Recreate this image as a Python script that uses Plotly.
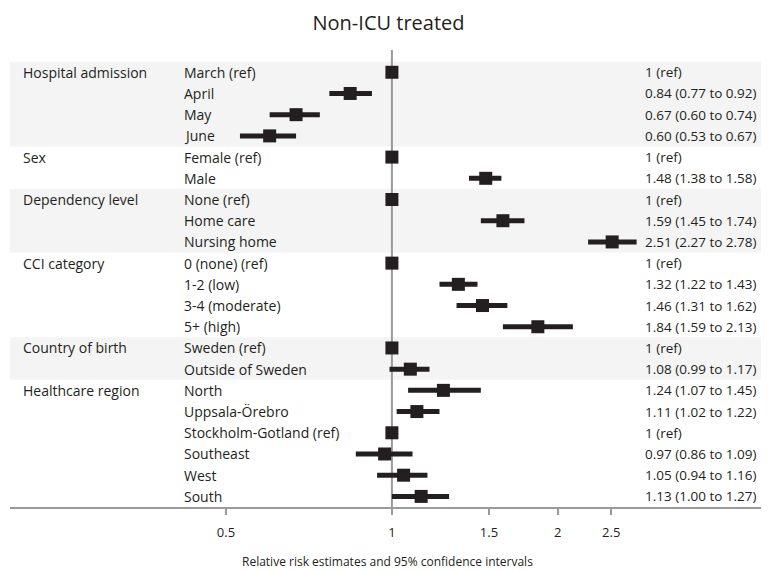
import plotly.graph_objects as go

groups = ["Hospital admission", "", "", "", "Sex", "", "Dependency level", "", "",
          "CCI category", "", "", "", "Country of birth", "", "Healthcare region",
          "", "", "", "", ""]
labels = ["March (ref)", "April", "May", "June", "Female (ref)", "Male", "None (ref)",
          "Home care", "Nursing home", "0 (none) (ref)", "1-2 (low)", "3-4 (moderate)",
          "5+ (high)", "Sweden (ref)", "Outside of Sweden", "North", "Uppsala-Örebro",
          "Stockholm-Gotland (ref)", "Southeast", "West", "South"]
est = [1, 0.84, 0.67, 0.60, 1, 1.48, 1, 1.59, 2.51, 1, 1.32, 1.46, 1.84, 1, 1.08,
       1.24, 1.11, 1, 0.97, 1.05, 1.13]
lo = [1, 0.77, 0.60, 0.53, 1, 1.38, 1, 1.45, 2.27, 1, 1.22, 1.31, 1.59, 1, 0.99,
      1.07, 1.02, 1, 0.86, 0.94, 1.00]
hi = [1, 0.92, 0.74, 0.67, 1, 1.58, 1, 1.74, 2.78, 1, 1.43, 1.62, 2.13, 1, 1.17,
      1.45, 1.22, 1, 1.09, 1.16, 1.27]
is_ref = [l.endswith("(ref)") for l in labels]
# shaded group bands: (first row, last row)
bands = [(0, 3), (6, 8), (13, 14)]
tick_vals = [0.5, 1, 1.5, 2, 2.5]
tick_text = ["0.5", "1", "1.5", "2", "2.5"]
x_title = "Relative risk estimates and 95% confidence intervals"

rows = list(range(len(labels)))
dark = "#231f20"
font = "Open Sans"

fig = go.Figure()

shapes = []
for a, b in bands:
    shapes.append(dict(type="rect", xref="paper", yref="y", x0=0, x1=1,
                       y0=a - 0.5, y1=b + 0.5, fillcolor="#f4f4f4",
                       line=dict(width=0), layer="below"))
shapes.append(dict(type="line", xref="x", yref="paper", x0=1, x1=1, y0=0, y1=1,
                   line=dict(color="#9a9a9a", width=2), layer="below"))

fig.add_trace(go.Scatter(
    x=est, y=rows, mode="markers",
    marker=dict(symbol="square", size=13, color=dark),
    error_x=dict(type="data", symmetric=False,
                 array=[0 if r else h - e for h, e, r in zip(hi, est, is_ref)],
                 arrayminus=[0 if r else e - l for l, e, r in zip(lo, est, is_ref)],
                 thickness=5, width=0, color=dark),
    showlegend=False, hoverinfo="skip"))

annotations = []
for i in rows:
    if groups[i]:
        annotations.append(dict(x=0.014, y=i, xref="paper", yref="y", text=groups[i],
                                showarrow=False, xanchor="left", yanchor="middle",
                                font=dict(family=font, size=14, color=dark)))
    annotations.append(dict(x=0.228, y=i, xref="paper", yref="y", text=labels[i],
                            showarrow=False, xanchor="left", yanchor="middle",
                            font=dict(family=font, size=14, color=dark)))
    txt = "1 (ref)" if is_ref[i] else f"{est[i]:.2f} ({lo[i]:.2f} to {hi[i]:.2f})"
    annotations.append(dict(x=0.838, y=i, xref="paper", yref="y", text=txt,
                            showarrow=False, xanchor="left", yanchor="middle",
                            font=dict(family=font, size=13.5, color=dark)))
annotations.append(dict(x=0.5, y=-0.12, xref="paper", yref="paper", text=x_title,
                        showarrow=False, xanchor="center", yanchor="middle",
                        font=dict(family=font, size=12, color=dark)))

fig.update_layout(
    width=761, height=563,
    margin=dict(l=2, r=4, t=42, b=64, autoexpand=False),
    paper_bgcolor="white", plot_bgcolor="white",
    title=dict(text="Non-ICU treated", x=0.5, xanchor="center", y=0.973, yanchor="middle",
               font=dict(family=font, size=20, color=dark)),
    shapes=shapes, annotations=annotations,
    xaxis=dict(type="log", range=[-0.693, 0.677], tickvals=tick_vals, ticktext=tick_text,
               showgrid=False, zeroline=False, showline=True, linecolor="#9a9a9a",
               linewidth=2, ticks="outside", ticklen=6, tickcolor="#9a9a9a",
               tickwidth=2, tickfont=dict(family=font, size=13, color=dark),
               ticklabelstandoff=6, automargin=False),
    yaxis=dict(range=[20.5, -1.05], visible=False, showgrid=False, zeroline=False,
               automargin=False),
)

fig.write_html("out.html")
